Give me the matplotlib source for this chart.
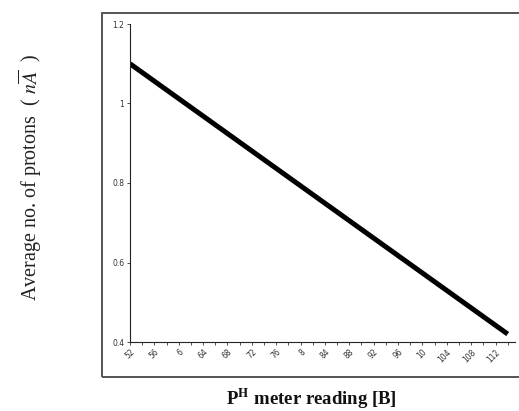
import matplotlib
matplotlib.use("Agg")
import matplotlib.pyplot as plt
from matplotlib.patches import Rectangle
import numpy as np

# data
x_vals = [5.2, 11.4]
y_vals = [1.10, 0.42]
x_ticks = [5.2, 5.6, 6.0, 6.4, 6.8, 7.2, 7.6, 8.0, 8.4, 8.8, 9.2, 9.6, 10.0, 10.4, 10.8, 11.2]
x_tick_labels = ["52", "56", "6", "64", "68", "72", "76", "8", "84", "88", "92", "96", "10", "104", "108", "112"]
y_ticks = [0.4, 0.6, 0.8, 1.0, 1.2]
y_tick_labels = ["0.4", "0.6", "0.8", "1", "1.2"]

plt.rcParams['mathtext.fontset'] = 'stix'

fig = plt.figure(figsize=(5.19, 4.11), dpi=100)
fig.patch.set_facecolor('white')

# outer frame
fig.add_artist(Rectangle((102/519, 1-377/411), 1.0, (377-13)/411,
                         transform=fig.transFigure, fill=False,
                         edgecolor='#555555', linewidth=1.4))

ax = fig.add_axes([130/519, 1-342/411, (515-130)/519, (342-24)/411])
ax.plot(x_vals, y_vals, color='black', linewidth=3.6, solid_capstyle='butt')
ax.set_xlim(5.2, 11.52)
ax.set_ylim(0.4, 1.2)
for s in ['top', 'right']:
    ax.spines[s].set_visible(False)
for s in ['left', 'bottom']:
    ax.spines[s].set_linewidth(0.8)
    ax.spines[s].set_color('#222222')

ax.set_xticks(x_ticks)
ax.set_xticklabels(x_tick_labels, rotation=45, ha='right', rotation_mode='anchor',
                   fontsize=5.5, color='#333333')
ax.set_xticks(np.arange(5.4, 11.5, 0.4), minor=True)
ax.set_yticks(y_ticks)
ax.set_yticklabels(y_tick_labels, fontsize=5.5, color='#333333')
ax.tick_params(axis='both', which='both', length=2.5, width=0.6, pad=1.5, color='#333333')

fig.text(30/519, 1-177/411, r"Average no. of protons  ( $n\overline{A}$  )",
         rotation=90, ha='center', va='center', fontsize=14.5,
         family='Liberation Serif', color='#222222')
fig.text(311/519, 1-399/411, r"P$^{\mathbf{H}}$ meter reading [B]",
         ha='center', va='center', fontsize=13.5, fontweight='bold',
         family='Liberation Serif', color='#111111')

fig.savefig("out.png", dpi=100)
